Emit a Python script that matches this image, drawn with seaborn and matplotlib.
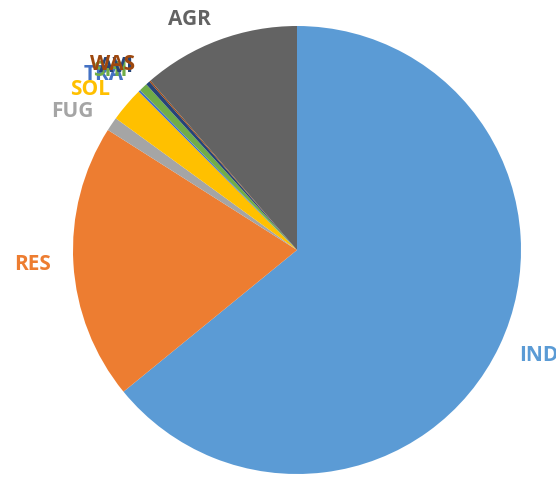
import matplotlib
matplotlib.use("Agg")
import matplotlib.pyplot as plt
import seaborn as sns

# Emission share by sector (%)
sectors = ["IND", "RES", "FUG", "SOL", "TRA", "SHI", "AVI", "WAS", "AGR"]
shares = [64.1, 19.9, 1.0, 2.5, 0.15, 0.6, 0.3, 0.1, 11.35]
colors = ["#5B9BD5", "#ED7D31", "#A5A5A5", "#FFC000", "#4472C4",
          "#70AD47", "#264478", "#9E480E", "#636363"]

sns.set_theme(style="white")
plt.rcParams["font.family"] = ["Open Sans", "DejaVu Sans"]

fig = plt.figure(figsize=(5.56, 4.79), dpi=100)
ax = fig.add_axes([(297 - 224) / 556, (479 - 250 - 224) / 479, 448 / 556, 448 / 479])

wedges, texts = ax.pie(
    shares,
    labels=sectors,
    colors=colors,
    startangle=90,
    counterclock=False,
    labeldistance=1.1,
    wedgeprops=dict(linewidth=0),
    textprops=dict(fontsize=15, fontweight="bold"),
)
for t, c in zip(texts, colors):
    t.set_color(c)
    t.set_clip_on(False)

ax.set_xlim(-1, 1)
ax.set_ylim(-1, 1)
ax.set_aspect("equal")
ax.axis("off")

fig.savefig("out.png", dpi=100)
